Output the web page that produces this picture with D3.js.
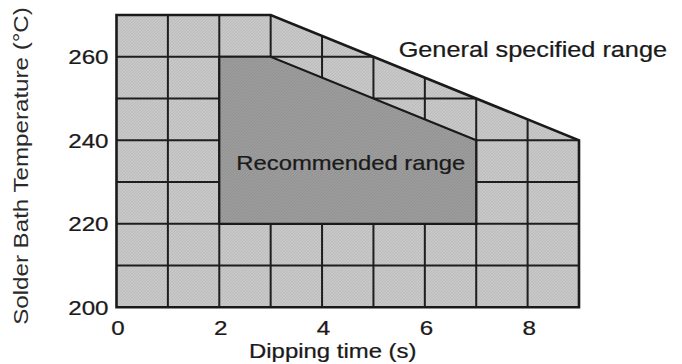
<!DOCTYPE html>
<html>
<head>
<meta charset="utf-8">
<script src="https://cdn.jsdelivr.net/npm/d3@7"></script>
<style>
  html, body { margin: 0; padding: 0; background: #fff; }
  svg { display: block; }
  text { font-family: "Liberation Sans", Arial, Helvetica, sans-serif; fill: #1a1a1a; stroke: #1a1a1a; stroke-width: 0.25; }
  text.light { fill: #2a2a2a; stroke: none; }
</style>
</head>
<body>
<svg id="chart" width="682" height="364"></svg>
<script>
// Dipping time (s) vs. solder bath temperature (°C)
const xTicks = [0, 2, 4, 6, 8];
const yTicks = [200, 220, 240, 260];
const gridTimes = [1, 2, 3, 4, 5, 6, 7, 8];
const gridTemps = [210, 220, 230, 240, 250, 260];
// Polygon corners as [time, temperature]
const generalRange = [[0, 200], [0, 270], [3, 270], [9, 240], [9, 200]];
const recommendedRange = [[2, 220], [2, 260], [3, 260], [7, 240], [7, 220]];
const labels = {
  general: "General specified range",
  recommended: "Recommended range",
  xTitle: "Dipping time (s)",
  yTitle: "Solder Bath Temperature (\u00B0C)"
};

const svg = d3.select("#chart");

const x = d3.scaleLinear().domain([0, 9]).range([116.5, 579]);
const y = d3.scaleLinear().domain([200, 270]).range([307.3, 15]);

// Fine halftone-like textures for the two fills
const defs = svg.append("defs");
function texture(id, a, b) {
  const p = defs.append("pattern").attr("id", id)
    .attr("patternUnits", "userSpaceOnUse").attr("width", 3).attr("height", 3);
  p.append("rect").attr("width", 3).attr("height", 3).attr("fill", a);
  p.append("rect").attr("x", 0).attr("y", 0).attr("width", 1).attr("height", 1).attr("fill", b);
  p.append("rect").attr("x", 2).attr("y", 1).attr("width", 1).attr("height", 1).attr("fill", b);
  p.append("rect").attr("x", 1).attr("y", 2).attr("width", 1).attr("height", 1).attr("fill", b);
}
texture("lightTex", "#c8c8c8", "#bbbbbb");
texture("darkTex", "#9c9c9c", "#919191");

const line = d3.line().x(d => x(d[0])).y(d => y(d[1]));
const closed = pts => line(pts) + "Z";

defs.append("clipPath").attr("id", "generalClip")
  .append("path").attr("d", closed(generalRange));

// General specified range fill
svg.append("path").attr("d", closed(generalRange))
  .attr("fill", "url(#lightTex)");

// Grid lines, kept inside the general range
const grid = svg.append("g").attr("clip-path", "url(#generalClip)")
  .attr("stroke", "#1e1e1e").attr("stroke-width", 2);
grid.selectAll("line.v").data(gridTimes).join("line")
  .attr("x1", d => x(d)).attr("x2", d => x(d))
  .attr("y1", y(270)).attr("y2", y(200));
grid.selectAll("line.h").data(gridTemps).join("line")
  .attr("x1", x(0)).attr("x2", x(9))
  .attr("y1", d => y(d)).attr("y2", d => y(d));

// Recommended range fill covers the grid inside it
svg.append("path").attr("d", closed(recommendedRange))
  .attr("fill", "url(#darkTex)")
  .attr("stroke", "#1a1a1a").attr("stroke-width", 2.2)
  .attr("stroke-linejoin", "miter");

// Outline of the general range
svg.append("path").attr("d", closed(generalRange))
  .attr("fill", "none")
  .attr("stroke", "#1a1a1a").attr("stroke-width", 2.6)
  .attr("stroke-linejoin", "miter");

// Text helper: horizontally widened glyphs
const SX = 1.15;
function addText(px, py, str, anchor, size, rot, cls) {
  const g = svg.append("g")
    .attr("transform", `translate(${px},${py}) rotate(${rot || 0}) scale(${SX},1)`);
  g.append("text").attr("text-anchor", anchor)
    .attr("class", cls || null)
    .attr("font-size", size).text(str);
  return g;
}

// Axis tick labels
yTicks.forEach(t => addText(x(0) - 8, y(t) + 7.5, String(t), "end", 21));
xTicks.forEach(t => addText(x(t) + 1.5, 335, String(t), "middle", 21));

// Axis titles
addText((x(0) + x(9)) / 2 - 15, 358, labels.xTitle, "middle", 20.8);
addText(28, 166, labels.yTitle, "middle", 21, -90, "light");

// Region labels
addText(x(5.5) - 0.5, 57, labels.general, "start", 22);
addText((x(2) + x(7)) / 2 + 3, 170, labels.recommended, "middle", 20.7);
</script>
</body>
</html>
